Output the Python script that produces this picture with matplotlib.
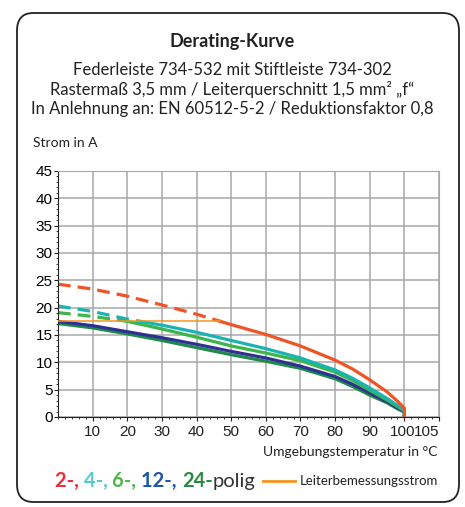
import numpy as np
import matplotlib.pyplot as plt
from matplotlib import font_manager
from matplotlib.patches import FancyBboxPatch

# data
temp = [0, 10, 20, 30, 40, 50, 60, 70, 80, 85, 90, 95, 98, 100, 100]
strom_2 = [24.3, 23.4, 22.1, 20.5, 18.8, 16.9, 15.1, 13.0, 10.4, 8.8, 6.8, 4.6, 2.9, 1.6, 0]
strom_4 = [20.3, 19.3, 17.9, 16.8, 15.5, 14.0, 12.5, 10.8, 8.6, 7.1, 5.3, 3.4, 2.1, 1.2, 0]
strom_6 = [19.1, 18.4, 17.5, 16.1, 14.6, 13.0, 11.7, 10.3, 8.2, 6.7, 4.9, 3.1, 1.9, 1.1, 0]
strom_12 = [17.5, 16.7, 15.6, 14.5, 13.3, 12.0, 10.8, 9.3, 7.4, 6.0, 4.4, 2.8, 1.7, 1.0, 0]
strom_24 = [17.1, 16.3, 15.2, 14.0, 12.7, 11.4, 10.2, 8.9, 7.0, 5.6, 4.0, 2.6, 1.5, 0.9, 0]
rated_current = 17.5

series = [
    ('24', strom_24, '#1e8a48'),
    ('12', strom_12, '#2e3192'),
    ('6', strom_6, '#3cb54a'),
    ('4', strom_4, '#1ab3b0'),
    ('2', strom_2, '#f05426'),
]

legend_parts = [('2-, ', '#ee2e36'), ('4-, ', '#5cc6d2'), ('6-, ', '#4cb848'),
                ('12-, ', '#1e56a0'), ('24-', '#2a8a45')]

x_ticks = [10, 20, 30, 40, 50, 60, 70, 80, 90, 100, 105]
y_ticks = [0, 5, 10, 15, 20, 25, 30, 35, 40, 45]


def split_at(x, y, level):
    # dashed part where current is above the rated conductor current
    x = np.array(x, float)
    y = np.array(y, float)
    above = y > level
    if not above.any():
        return None, (x, y)
    i = int(np.argmax(~above))
    xc = np.interp(level, [y[i], y[i - 1]], [x[i], x[i - 1]])
    dashed = (np.append(x[:i], xc), np.append(y[:i], level))
    solid = (np.insert(x[i:], 0, xc), np.insert(y[i:], 0, level))
    return dashed, solid


# narrow font for the axis numbers if there is one
try:
    font_manager.findfont('Liberation Sans Narrow', fallback_to_default=False)
    tick_font = 'Liberation Sans Narrow'
    tick_size = 12
except ValueError:
    tick_font = 'Liberation Sans'
    tick_size = 11

fig = plt.figure(figsize=(4.65, 5.07), dpi=100)
plt.rcParams['font.family'] = ['Lato', 'DejaVu Sans']

# rounded frame
frame = FancyBboxPatch((17 / 465, 5 / 507), 442 / 465, 489 / 507,
                       boxstyle='round,pad=0,rounding_size=0.035',
                       transform=fig.transFigure, fill=False,
                       edgecolor='#222222', linewidth=1.3)
fig.patches.append(frame)

fig.text(0.5, 1 - 42 / 507, 'Derating-Kurve', ha='center', va='center',
         fontsize=13, fontweight='bold', color='#222222')
fig.text(0.5, 1 - 70 / 507, 'Federleiste 734-532 mit Stiftleiste 734-302',
         ha='center', va='center', fontsize=12, color='#222222')
fig.text(0.5, 1 - 90 / 507, 'Rastermaß 3,5 mm / Leiterquerschnitt 1,5 mm² „f“',
         ha='center', va='center', fontsize=12, color='#222222')
fig.text(0.5, 1 - 109 / 507, 'In Anlehnung an: EN 60512-5-2 / Reduktionsfaktor 0,8',
         ha='center', va='center', fontsize=12, color='#222222')
fig.text(33 / 465, 1 - 143 / 507, 'Strom in A', ha='left', va='center',
         fontsize=10, color='#222222')

ax = fig.add_axes([58 / 465, 90 / 507, 381 / 465, 246 / 507])
ax.set_xlim(0, 110)
ax.set_ylim(0, 45)

ax.set_xticks([10, 20, 30, 40, 50, 60, 70, 80, 90, 100, 110])
ax.set_xticks(np.arange(0, 111, 2), minor=True)
ax.set_yticks(y_ticks)
ax.set_yticks(np.arange(0, 46, 1), minor=True)
ax.grid(True, which='major', color='#a8a8a8', linewidth=1.1)
ax.set_axisbelow(True)
ax.set_xticklabels([])
ax.set_yticklabels([str(v) for v in y_ticks], family=tick_font, fontsize=tick_size)
ax.tick_params(axis='y', which='major', length=3, pad=1, color='#222222')
ax.tick_params(axis='x', which='major', length=3, color='#222222')
ax.tick_params(which='minor', length=1.5, color='#222222')
for t in x_ticks:
    xpos = t + 1.5 if t == 105 else (t - 0.5 if t == 100 else t)
    ax.text(xpos, -1.5, str(t), transform=ax.transData, ha='center', va='top',
            family=tick_font, fontsize=tick_size, color='#222222')

for side in ['top', 'right']:
    ax.spines[side].set_color('#a8a8a8')
for side in ['left', 'bottom']:
    ax.spines[side].set_color('#222222')

for name, vals, col in series:
    dashed, solid = split_at(temp, vals, rated_current)
    if dashed is not None:
        ax.plot(dashed[0], dashed[1], color=col, linewidth=2.3,
                dashes=(4, 2.2), solid_capstyle='butt')
    ax.plot(solid[0], solid[1], color=col, linewidth=2.3)

# rated conductor current up to where the 2-pole curve meets it
red_dashed, _ = split_at(temp, strom_2, rated_current)
ax.plot([0, red_dashed[0][-1]], [rated_current, rated_current],
        color='#f7941d', linewidth=1.1, zorder=5)

fig.text(437 / 465, 1 - 452 / 507, 'Umgebungstemperatur in °C', ha='right',
         va='center', fontsize=10, color='#222222')

# coloured legend text
fig.canvas.draw()
renderer = fig.canvas.get_renderer()
x0 = 55 / 465
y0 = 1 - 481 / 507
for txt, col in legend_parts:
    t = fig.text(x0, y0, txt, ha='left', va='center', fontsize=14.5,
                 fontweight='bold', color=col)
    bb = t.get_window_extent(renderer)
    x0 += bb.width / fig.bbox.width
fig.text(x0, y0, 'polig', ha='left', va='center', fontsize=14.5, color='#333333')

fig.add_artist(plt.Line2D([263 / 465, 295 / 465], [y0, y0], color='#f7941d',
                          linewidth=2, transform=fig.transFigure))
fig.text(300 / 465, y0, 'Leiterbemessungsstrom', ha='left', va='center',
         fontsize=9.5, color='#222222')

fig.savefig('out.png', dpi=100)
